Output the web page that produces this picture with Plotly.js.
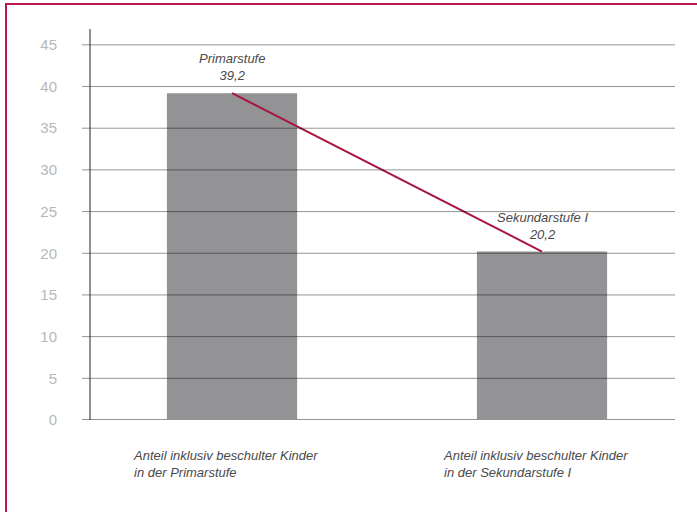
<!DOCTYPE html>
<html>
<head>
<meta charset="utf-8">
<script src="https://cdn.plot.ly/plotly-3.0.1.min.js"></script>
<style>
  html, body { margin: 0; padding: 0; background: #ffffff; }
  #wrap { position: relative; width: 697px; height: 512px; overflow: hidden; }
  #chart { position: absolute; left: 0; top: 0; width: 697px; height: 512px; }
  #frame { position: absolute; left: 5px; top: 3px; width: 720px; height: 540px;
           border-left: 2.5px solid #c1184b; border-top: 2.5px solid #c1184b;
           pointer-events: none; }
</style>
</head>
<body>
<div id="wrap">
  <div id="chart"></div>
  <div id="frame"></div>
</div>
<script>
// ---- data ----
const categories = ["Primarstufe", "Sekundarstufe I"];
const stageNames = ["Primarstufe", "Sekundarstufe I"];
const values = [39.2, 20.2];
const categoryLabels = [
  "Anteil inklusiv beschulter Kinder<br>in der Primarstufe",
  "Anteil inklusiv beschulter Kinder<br>in der Sekundarstufe I"
];
const yTickValues = [0, 5, 10, 15, 20, 25, 30, 35, 40, 45];

const fmt = v => v.toFixed(1).replace(".", ",");
const textFont = { family: "Liberation Sans, Arial, sans-serif", size: 13, color: "#4a4a4a", style: "italic" };

const bars = {
  type: "bar",
  x: categories,
  y: values,
  width: 0.42,
  marker: { color: "#939396", line: { width: 0 } },
  hoverinfo: "skip",
  showlegend: false
};

const trend = {
  type: "scatter",
  mode: "lines",
  x: categories,
  y: values,
  line: { color: "#a8163f", width: 2 },
  hoverinfo: "skip",
  showlegend: false
};

// gridlines as a trace on an overlaying helper x-axis, drawn after the bars
const gx = [], gy = [];
yTickValues.filter(v => v > 0).forEach(v => { gx.push(0, 1, null); gy.push(v, v, null); });
const grid = {
  type: "scatter", mode: "lines", xaxis: "x2", yaxis: "y",
  x: gx, y: gy,
  line: { color: "rgba(0,0,0,0.42)", width: 1 },
  hoverinfo: "skip", showlegend: false
};

const annotations = [];
categories.forEach((c, i) => {
  annotations.push({
    x: c, y: values[i], xref: "x", yref: "y",
    text: stageNames[i] + "<br>" + fmt(values[i]),
    showarrow: false, xanchor: "center", yanchor: "bottom", yshift: 8,
    font: textFont
  });
  annotations.push({
    x: c, y: 0, xref: "x", yref: "paper",
    text: categoryLabels[i],
    showarrow: false, xanchor: "left", yanchor: "top", align: "left",
    xshift: -101, yshift: -26,
    font: textFont
  });
});

const layout = {
  width: 697, height: 512,
  margin: { l: 82, r: 22, t: 29, b: 92 },
  paper_bgcolor: "rgba(0,0,0,0)",
  plot_bgcolor: "rgba(0,0,0,0)",
  showlegend: false,
  xaxis: {
    type: "category",
    range: [-0.484, 1.429],
    showticklabels: false,
    showgrid: false,
    zeroline: false,
    showline: false,
    ticks: ""
  },
  xaxis2: {
    overlaying: "x",
    range: [0, 1],
    visible: false,
    showgrid: false,
    zeroline: false
  },
  yaxis: {
    range: [0, 46.9],
    tickvals: yTickValues,
    ticktext: yTickValues.map(String),
    showgrid: false,
    zeroline: false,
    showline: false,
    ticks: "",
    ticklabelstandoff: 24,
    tickfont: { family: "Liberation Sans, Arial, sans-serif", size: 15, color: "#b8b8b8" }
  },
  shapes: [
    {
      type: "line", xref: "paper", yref: "y", layer: "above",
      x0: 0, x1: 1, y0: 0, y1: 0,
      line: { color: "#939393", width: 2 }
    },
    {
      type: "line", xref: "paper", yref: "paper", layer: "above",
      x0: 0.0135, x1: 0.0135, y0: 0, y1: 1,
      line: { color: "#222222", width: 1 }
    }
  ],
  annotations: annotations
};

Plotly.newPlot("chart", [bars, grid, trend], layout, { staticPlot: true, displayModeBar: false });
</script>
</body>
</html>
